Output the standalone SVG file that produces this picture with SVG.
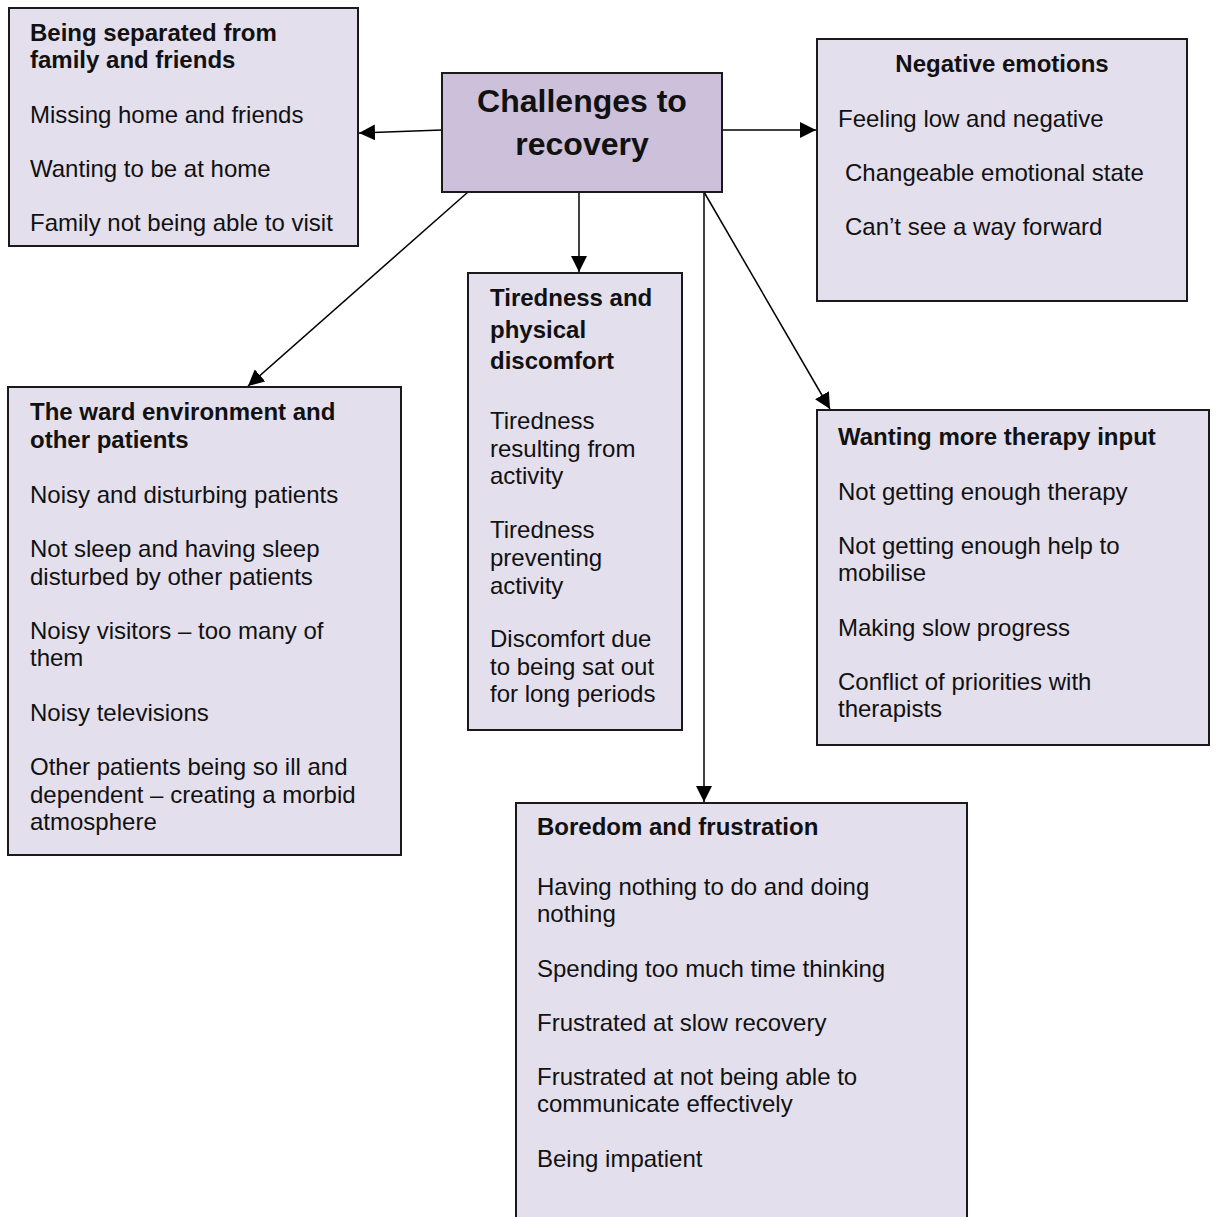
<svg xmlns="http://www.w3.org/2000/svg" width="1218" height="1217" viewBox="0 0 1218 1217">
<defs>
<style>
.box{fill:#e4dfec;stroke:#1a1a1a;stroke-width:2}
.hub{fill:#ccc0da;stroke:#1a1a1a;stroke-width:2}
text{font-family:"Liberation Sans",Arial,sans-serif;font-size:24px;fill:#111}
.b{font-weight:bold}
.t{font-weight:bold;font-size:32px;text-anchor:middle}
.c{stroke:#000;stroke-width:1.5;fill:none;marker-end:url(#ah)}
</style>
<marker id="ah" markerUnits="userSpaceOnUse" markerWidth="17" markerHeight="16" refX="16" refY="8" orient="auto">
<path d="M0,0 L16,8 L0,16 Z" fill="#000"/>
</marker>
</defs>
<rect width="1218" height="1217" fill="#fff"/>
<g id="connectors">
<line class="c" x1="442" y1="130" x2="359" y2="133"/>
<line class="c" x1="722" y1="130" x2="816" y2="130"/>
<line class="c" x1="579" y1="192" x2="579" y2="272"/>
<line class="c" x1="468" y1="192" x2="248" y2="386"/>
<line class="c" x1="704" y1="192" x2="830" y2="409"/>
<line class="c" x1="704" y1="192" x2="704" y2="802"/>
</g>
<g id="hub">
<rect class="hub" x="442" y="73" width="280" height="119"/>
<text class="t" x="582" y="112">Challenges to</text>
<text class="t" x="582" y="155">recovery</text>
</g>
<g id="separated">
<rect class="box" x="9" y="8" width="349" height="238"/>
<text class="b" x="30" y="41">Being separated from</text>
<text class="b" x="30" y="68">family and friends</text>
<text x="30" y="123">Missing home and friends</text>
<text x="30" y="177">Wanting to be at home</text>
<text x="30" y="231">Family not being able to visit</text>
</g>
<g id="negative">
<rect class="box" x="817" y="39" width="370" height="262"/>
<text class="b" x="1002" y="72" text-anchor="middle">Negative emotions</text>
<text x="838" y="127">Feeling low and negative</text>
<text x="845" y="181">Changeable emotional state</text>
<text x="845" y="235">Can’t see a way forward</text>
</g>
<g id="ward">
<rect class="box" x="8" y="387" width="393" height="468"/>
<text class="b" x="30" y="420">The ward environment and</text>
<text class="b" x="30" y="448">other patients</text>
<text x="30" y="503">Noisy and disturbing patients</text>
<text x="30" y="557">Not sleep and having sleep</text>
<text x="30" y="585">disturbed by other patients</text>
<text x="30" y="639">Noisy visitors – too many of</text>
<text x="30" y="666">them</text>
<text x="30" y="721">Noisy televisions</text>
<text x="30" y="775">Other patients being so ill and</text>
<text x="30" y="803">dependent – creating a morbid</text>
<text x="30" y="830">atmosphere</text>
</g>
<g id="tiredness">
<rect class="box" x="468" y="273" width="214" height="457"/>
<text class="b" x="490" y="306">Tiredness and</text>
<text class="b" x="490" y="338">physical</text>
<text class="b" x="490" y="369">discomfort</text>
<text x="490" y="429">Tiredness</text>
<text x="490" y="457">resulting from</text>
<text x="490" y="484">activity</text>
<text x="490" y="538">Tiredness</text>
<text x="490" y="566">preventing</text>
<text x="490" y="594">activity</text>
<text x="490" y="647">Discomfort due</text>
<text x="490" y="675">to being sat out</text>
<text x="490" y="702">for long periods</text>
</g>
<g id="therapy">
<rect class="box" x="817" y="410" width="392" height="335"/>
<text class="b" x="838" y="445">Wanting more therapy input</text>
<text x="838" y="500">Not getting enough therapy</text>
<text x="838" y="554">Not getting enough help to</text>
<text x="838" y="581">mobilise</text>
<text x="838" y="636">Making slow progress</text>
<text x="838" y="690">Conflict of priorities with</text>
<text x="838" y="717">therapists</text>
</g>
<g id="boredom">
<rect class="box" x="516" y="803" width="451" height="430"/>
<text class="b" x="537" y="835">Boredom and frustration</text>
<text x="537" y="895">Having nothing to do and doing</text>
<text x="537" y="922">nothing</text>
<text x="537" y="977">Spending too much time thinking</text>
<text x="537" y="1031">Frustrated at slow recovery</text>
<text x="537" y="1085">Frustrated at not being able to</text>
<text x="537" y="1112">communicate effectively</text>
<text x="537" y="1167">Being impatient</text>
</g>
</svg>
